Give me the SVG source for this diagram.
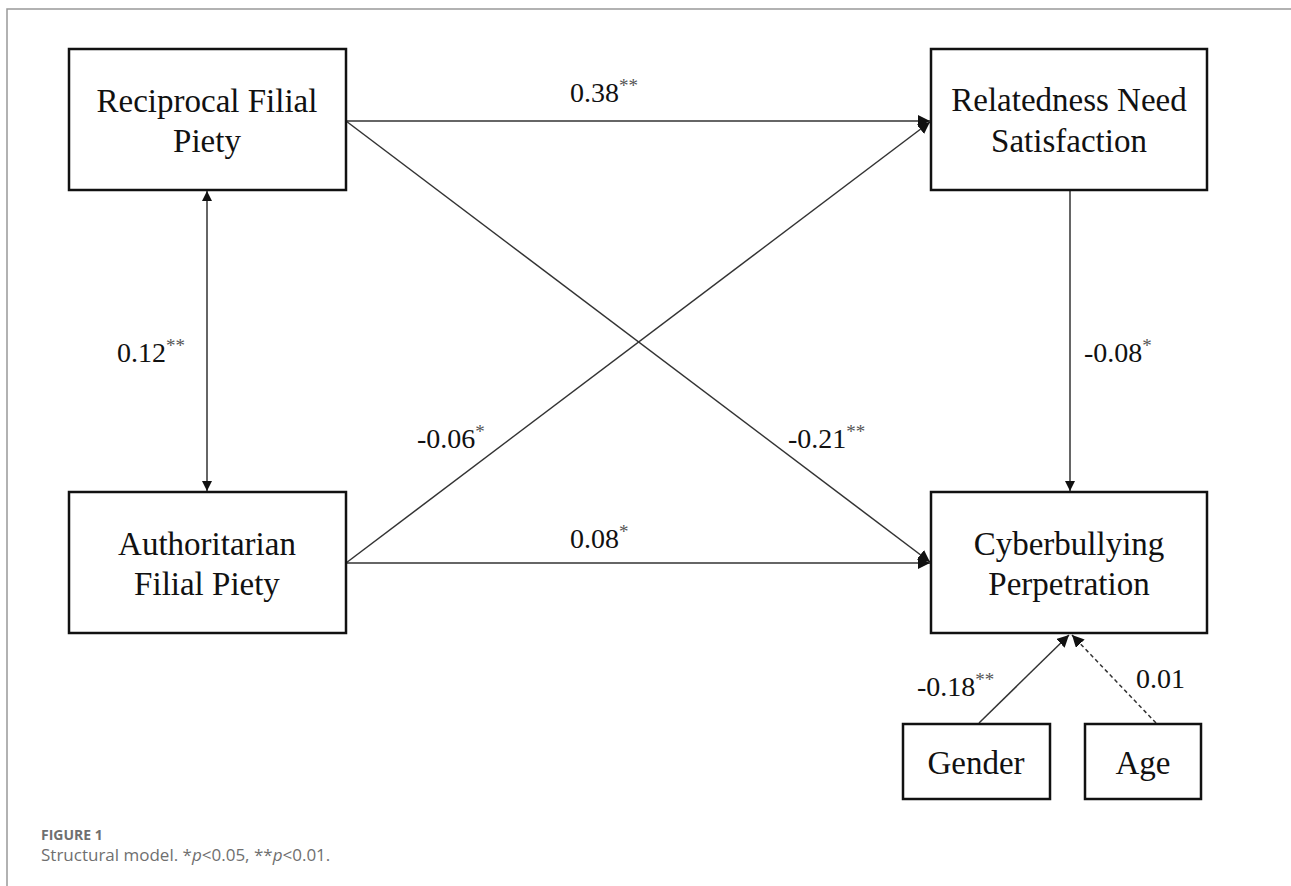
<svg xmlns="http://www.w3.org/2000/svg" width="1291" height="886" viewBox="0 0 1291 886">
<defs>
<style>
.box{fill:#fff;stroke:#111;stroke-width:2.5}
.lbl{font-family:"Liberation Serif","Times New Roman",serif;font-size:33px;fill:#111;text-anchor:middle}
.coef{font-family:"Liberation Serif","Times New Roman",serif;font-size:28px;fill:#111}
.sup{font-size:19px;fill:#555}
.edge{stroke:#333;stroke-width:1.5;fill:none}
.cap{font-family:"Open Sans","Noto Sans",sans-serif;fill:#6f6f6f}
</style>
<marker id="ah" viewBox="0 0 10 10" refX="10" refY="5" markerWidth="10" markerHeight="10" markerUnits="userSpaceOnUse" orient="auto-start-reverse">
<path d="M0,0 L10,5 L0,10 z" fill="#111"/>
</marker>
<marker id="ah2" viewBox="0 0 10 10" refX="10" refY="5" markerWidth="12" markerHeight="12" markerUnits="userSpaceOnUse" orient="auto">
<path d="M0,0 L10,5 L0,10 z" fill="#111"/>
</marker>
</defs>
<rect width="1291" height="886" fill="#fff"/>
<path d="M7,886 V9 H1291" fill="none" stroke="#999" stroke-width="1.5"/>

<g id="connectors">
<line class="edge" x1="346" y1="121" x2="930" y2="121" marker-end="url(#ah2)"/>
<line class="edge" x1="346" y1="121" x2="930" y2="562" marker-end="url(#ah2)"/>
<line class="edge" x1="346" y1="563" x2="930" y2="563" marker-end="url(#ah2)"/>
<line class="edge" x1="346" y1="563" x2="930" y2="122" marker-end="url(#ah2)"/>
<line class="edge" x1="207" y1="191" x2="207" y2="491" marker-start="url(#ah)" marker-end="url(#ah)"/>
<line class="edge" x1="1070" y1="191" x2="1070" y2="491" marker-end="url(#ah)"/>
<line class="edge" x1="979" y1="723" x2="1069" y2="635" marker-end="url(#ah2)"/>
<line class="edge" x1="1156" y1="723" x2="1072" y2="635" stroke-dasharray="4,3" marker-end="url(#ah2)"/>
</g>

<g id="labels">
<text class="coef" x="570" y="102">0.38<tspan class="sup" dy="-10">**</tspan></text>
<text class="coef" x="117" y="362">0.12<tspan class="sup" dy="-10">**</tspan></text>
<text class="coef" x="1084" y="362">-0.08<tspan class="sup" dy="-10">*</tspan></text>
<text class="coef" x="417" y="448">-0.06<tspan class="sup" dy="-10">*</tspan></text>
<text class="coef" x="788" y="448">-0.21<tspan class="sup" dy="-10">**</tspan></text>
<text class="coef" x="570" y="548">0.08<tspan class="sup" dy="-10">*</tspan></text>
<text class="coef" x="917" y="696">-0.18<tspan class="sup" dy="-10">**</tspan></text>
<text class="coef" x="1136" y="688">0.01</text>
</g>

<g id="node-rfp">
<rect class="box" x="69" y="49" width="277" height="141"/>
<text class="lbl" x="207" y="112">Reciprocal Filial</text>
<text class="lbl" x="207" y="152">Piety</text>
</g>
<g id="node-rns">
<rect class="box" x="931" y="49" width="276" height="141"/>
<text class="lbl" x="1069" y="111">Relatedness Need</text>
<text class="lbl" x="1069" y="152">Satisfaction</text>
</g>
<g id="node-afp">
<rect class="box" x="69" y="492" width="277" height="141"/>
<text class="lbl" x="207" y="555">Authoritarian</text>
<text class="lbl" x="207" y="595">Filial Piety</text>
</g>
<g id="node-cp">
<rect class="box" x="931" y="492" width="276" height="141"/>
<text class="lbl" x="1069" y="555">Cyberbullying</text>
<text class="lbl" x="1069" y="595">Perpetration</text>
</g>
<g id="node-gender">
<rect class="box" x="903" y="724" width="147" height="75"/>
<text class="lbl" x="976" y="774">Gender</text>
</g>
<g id="node-age">
<rect class="box" x="1085" y="724" width="116" height="75"/>
<text class="lbl" x="1143" y="774">Age</text>
</g>

<g id="caption">
<text class="cap" x="41" y="840" font-size="14" font-weight="bold">FIGURE 1</text>
<text class="cap" x="41" y="861" font-size="17">Structural model. *<tspan font-style="italic">p</tspan>&lt;0.05, **<tspan font-style="italic">p</tspan>&lt;0.01.</text>
</g>
</svg>
